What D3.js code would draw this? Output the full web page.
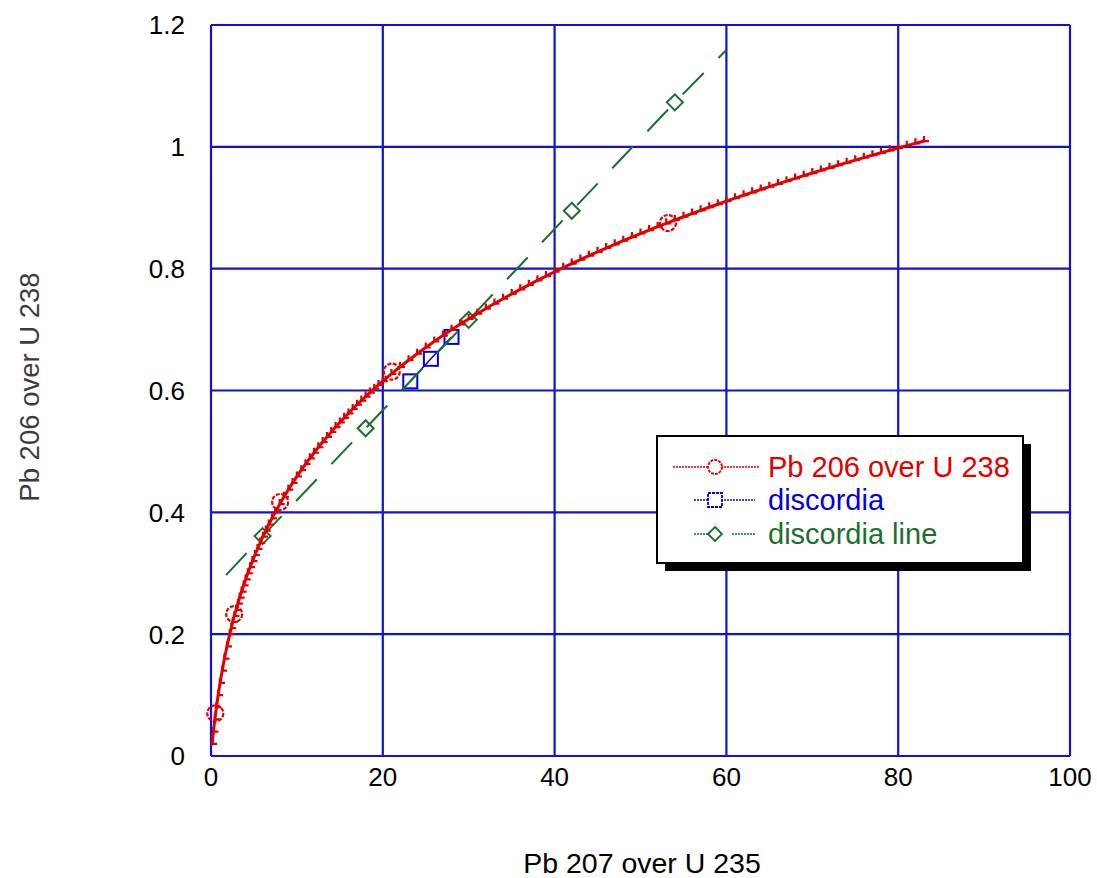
<!DOCTYPE html>
<html>
<head>
<meta charset="utf-8">
<script src="https://cdn.jsdelivr.net/npm/d3@7"></script>
<style>
  body { margin: 0; background: #fff; }
  svg { display: block; }
  text { font-family: "Liberation Sans", Arial, sans-serif; }
</style>
</head>
<body>
<svg id="chart" width="1097" height="878"></svg>
<script>
// Concordia curve: Pb207/U235 (x) against Pb206/U238 (y)
const concordiaX = [
  0.134, 0.283, 0.448, 0.630, 0.831, 1.053, 1.298, 1.566, 1.860, 2.182,
  2.354, 2.534, 2.722, 2.919, 3.124, 3.337, 3.561, 3.794, 4.036, 4.289,
  4.553, 4.828, 5.114, 5.412, 5.722, 6.044, 6.379, 6.728, 7.090, 7.467,
  8, 8.5, 9, 9.5, 10, 10.5, 11, 11.5, 12, 12.5, 13, 13.5, 14, 14.5, 15,
  15.5, 16, 16.5, 17, 17.5, 18, 18.5, 19, 19.5, 20,
  21, 22, 23, 24, 25, 26, 27, 28, 29, 30, 31, 32, 33, 34, 35, 36, 37, 38,
  39, 40, 41, 42, 43, 44, 45, 46, 47, 48, 49, 50, 51, 52, 53, 54, 55, 56,
  57, 58, 59, 60, 61, 62, 63, 64, 65, 66, 67, 68, 69, 70, 71, 72, 73, 74,
  75, 76, 77, 78, 79, 80, 81, 82, 83
];
const concordiaY = [
  0.020, 0.040, 0.060, 0.080, 0.100, 0.120, 0.140, 0.160, 0.180, 0.200,
  0.210, 0.220, 0.230, 0.240, 0.250, 0.260, 0.270, 0.280, 0.290, 0.300,
  0.310, 0.320, 0.330, 0.340, 0.350, 0.360, 0.370, 0.380, 0.390, 0.400,
  0.4135, 0.4256, 0.4372, 0.4483, 0.4589, 0.4692, 0.4791, 0.4886, 0.4978,
  0.5068, 0.5154, 0.5238, 0.5319, 0.5399, 0.5476, 0.5551, 0.5624, 0.5696,
  0.5766, 0.5834, 0.5901, 0.5966, 0.6030, 0.6092, 0.6153,
  0.6272, 0.6387, 0.6497, 0.6603, 0.6706, 0.6806, 0.6902, 0.6996, 0.7087,
  0.7175, 0.7261, 0.7345, 0.7427, 0.7507, 0.7585, 0.7661, 0.7735, 0.7808,
  0.7879, 0.7949, 0.8017, 0.8084, 0.8149, 0.8214, 0.8277, 0.8339, 0.8400,
  0.8460, 0.8519, 0.8577, 0.8633, 0.8689, 0.8745, 0.8799, 0.8852, 0.8905,
  0.8957, 0.9008, 0.9058, 0.9108, 0.9157, 0.9205, 0.9253, 0.9300, 0.9346,
  0.9392, 0.9437, 0.9482, 0.9527, 0.9570, 0.9613, 0.9656, 0.9698, 0.9740,
  0.9781, 0.9822, 0.9862, 0.9902, 0.9942, 0.9981, 1.0019, 1.0057, 1.0095
];
// Labelled ages on the concordia (circle symbols)
const concordiaMarkX = [0.5, 2.7, 8.05, 21.05, 53.2];
const concordiaMarkY = [0.070, 0.233, 0.417, 0.631, 0.875];

// Measured discordant samples
const discordiaX = [23.2, 25.6, 28.0];
const discordiaY = [0.615, 0.652, 0.688];

// Fitted discordia line
const lineX = [1.75, 6, 18, 30, 42, 54, 60];
const lineY = [0.297, 0.361, 0.538, 0.716, 0.895, 1.073, 1.159];
const lineMarked = [false, true, true, true, true, true, false];

const xTicks = [0, 20, 40, 60, 80, 100];
const xTickLabels = ["0", "20", "40", "60", "80", "100"];
const yTicks = [0, 0.2, 0.4, 0.6, 0.8, 1, 1.2];
const yTickLabels = ["0", "0.2", "0.4", "0.6", "0.8", "1", "1.2"];

const seriesNames = ["Pb 206 over U 238", "discordia", "discordia line"];
const xTitle = "Pb 207 over U 235";
const yTitle = "Pb 206 over U 238";

const RED = "#e00000", BLUE = "#0000e0", GREEN = "#1b6f2c", GRID = "#1010e0";

const svg = d3.select("#chart");
const x = d3.scaleLinear().domain([0, 100]).range([211, 1070]);
const y = d3.scaleLinear().domain([0, 1.2]).range([756, 25]);

// grid and frame
const grid = svg.append("g");
grid.selectAll(".gx").data(xTicks).join("line")
  .attr("x1", d => x(d)).attr("x2", d => x(d))
  .attr("y1", y(0)).attr("y2", y(1.2))
  .attr("stroke", GRID).attr("stroke-width", 2.2);
grid.selectAll(".gy").data(yTicks).join("line")
  .attr("x1", x(0)).attr("x2", x(100))
  .attr("y1", d => y(d)).attr("y2", d => y(d))
  .attr("stroke", GRID).attr("stroke-width", 2.2);

// tick labels
svg.append("g").selectAll("text").data(xTicks).join("text")
  .attr("x", d => x(d)).attr("y", 786)
  .attr("text-anchor", "middle").attr("font-size", 26).attr("fill", "#000")
  .text((d, i) => xTickLabels[i]);
svg.append("g").selectAll("text").data(yTicks).join("text")
  .attr("x", 185).attr("y", d => y(d)).attr("dy", "0.36em")
  .attr("text-anchor", "end").attr("font-size", 26).attr("fill", "#000")
  .text((d, i) => yTickLabels[i]);

// axis titles
svg.append("text").attr("x", 642).attr("y", 873)
  .attr("text-anchor", "middle").attr("font-size", 28.5).attr("fill", "#000")
  .text(xTitle);
svg.append("text")
  .attr("transform", "translate(39,387) rotate(-90)")
  .attr("text-anchor", "middle").attr("font-size", 27.5).attr("fill", "#3c3c3c")
  .text(yTitle);

// discordia samples (blue)
const disc = discordiaX.map((d, i) => [d, discordiaY[i]]);
svg.append("path").datum(disc)
  .attr("d", d3.line().x(d => x(d[0])).y(d => y(d[1])))
  .attr("fill", "none").attr("stroke", BLUE).attr("stroke-width", 1.5);
svg.append("g").selectAll("rect").data(disc).join("rect")
  .attr("x", d => x(d[0]) - 7).attr("y", d => y(d[1]) - 7)
  .attr("width", 14).attr("height", 14)
  .attr("fill", "none").attr("stroke", BLUE).attr("stroke-width", 2);

// discordia line (green, dashed)
const dl = lineX.map((d, i) => [d, lineY[i], lineMarked[i]]);
svg.append("path").datum(dl)
  .attr("d", d3.line().x(d => x(d[0])).y(d => y(d[1])))
  .attr("fill", "none").attr("stroke", GREEN).attr("stroke-width", 2)
  .attr("stroke-dasharray", "30,21");
svg.append("g").selectAll("path").data(dl.filter(d => d[2])).join("path")
  .attr("d", d => {
    const cx = x(d[0]), cy = y(d[1]), r = 8;
    return `M${cx},${cy - r}L${cx + r},${cy}L${cx},${cy + r}L${cx - r},${cy}Z`;
  })
  .attr("fill", "none").attr("stroke", GREEN).attr("stroke-width", 2);

// concordia (red)
const conc = concordiaX.map((d, i) => [d, concordiaY[i]]);
svg.append("path").datum(conc)
  .attr("d", d3.line().x(d => x(d[0])).y(d => y(d[1])))
  .attr("fill", "none").attr("stroke", RED).attr("stroke-width", 3)
  .attr("stroke-linejoin", "miter");
svg.append("g").selectAll("path").data(conc).join("path")
  .attr("d", d => {
    const cx = x(d[0]), cy = y(d[1]);
    return `M${cx},${cy - 5}L${cx},${cy}L${cx + 5},${cy}`;
  })
  .attr("fill", "none").attr("stroke", RED).attr("stroke-width", 2.2);
const cm = concordiaMarkX.map((d, i) => [d, concordiaMarkY[i]]);
svg.append("g").selectAll("circle").data(cm).join("circle")
  .attr("cx", d => x(d[0])).attr("cy", d => y(d[1])).attr("r", 8)
  .attr("fill", "none").attr("stroke", RED).attr("stroke-width", 2.2)
  .attr("stroke-dasharray", "4,1.5");

// legend
const lg = svg.append("g");
lg.append("rect").attr("x", 665).attr("y", 444).attr("width", 366).attr("height", 127)
  .attr("fill", "#000");
lg.append("rect").attr("x", 657).attr("y", 436).attr("width", 366).attr("height", 127)
  .attr("fill", "#fff").attr("stroke", "#000").attr("stroke-width", 2);
const rows = [
  { color: RED, y: 467, x1: 673, x2: 759 },
  { color: BLUE, y: 500, x1: 694, x2: 755 },
  { color: GREEN, y: 534, x1: 694, x2: 755 }
];
rows.forEach((r, i) => {
  if (i === 2) {
    lg.append("line").attr("x1", r.x1).attr("x2", 716).attr("y1", r.y).attr("y2", r.y)
      .attr("stroke", r.color).attr("stroke-width", 1.5).attr("stroke-dasharray", "2,1");
    lg.append("line").attr("x1", 732).attr("x2", r.x2).attr("y1", r.y).attr("y2", r.y)
      .attr("stroke", r.color).attr("stroke-width", 1.5).attr("stroke-dasharray", "2,1");
  } else {
    lg.append("line").attr("x1", r.x1).attr("x2", r.x2).attr("y1", r.y).attr("y2", r.y)
      .attr("stroke", r.color).attr("stroke-width", 1.5).attr("stroke-dasharray", "2,1");
  }
  const cx = 715, cy = r.y;
  if (i === 0) {
    lg.append("circle").attr("cx", cx).attr("cy", cy).attr("r", 7)
      .attr("fill", "#fff").attr("stroke", r.color).attr("stroke-width", 1.8)
      .attr("stroke-dasharray", "3,1");
  } else if (i === 1) {
    lg.append("rect").attr("x", cx - 7).attr("y", cy - 7).attr("width", 14).attr("height", 14)
      .attr("fill", "#fff").attr("stroke", r.color).attr("stroke-width", 1.8)
      .attr("stroke-dasharray", "3,1");
  } else {
    lg.append("path").attr("d", `M${cx},${cy - 7}L${cx + 7},${cy}L${cx},${cy + 7}L${cx - 7},${cy}Z`)
      .attr("fill", "#fff").attr("stroke", r.color).attr("stroke-width", 1.8);
  }
  lg.append("text").attr("x", 768).attr("y", r.y).attr("dy", "0.36em")
    .attr("font-size", 29).attr("fill", r.color).text(seriesNames[i]);
});
</script>
</body>
</html>
